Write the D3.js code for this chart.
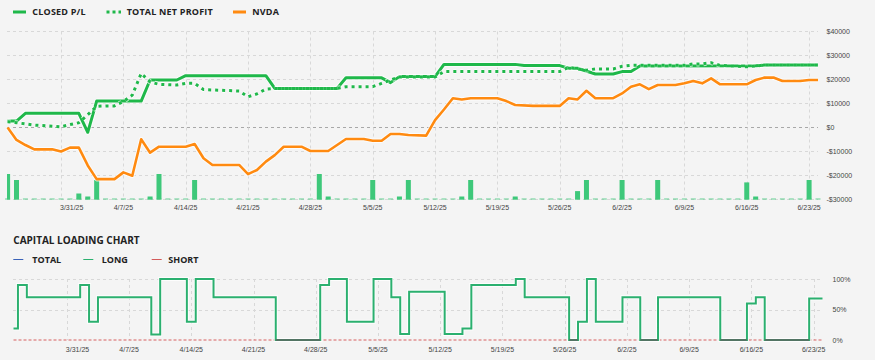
<!DOCTYPE html>
<html>
<head>
<meta charset="utf-8">
<script src="https://cdn.jsdelivr.net/npm/d3@7"></script>
<style>
  html, body { margin: 0; padding: 0; background: #f4f4f4; }
  svg { display: block; }
  .tick-label { font-family: "Liberation Sans", Arial, sans-serif; font-size: 7px; fill: #444; }
  .legend { font-family: "Open Sans", sans-serif; font-weight: 700; font-size: 9px; fill: #222; }
</style>
</head>
<body>
<svg id="chart" width="875" height="360"></svg>
<script>
// ---------------- DATA ----------------
const closedPL = [
  ["2025-03-25",2700],["2025-03-26",2700],["2025-03-27",5900],["2025-04-02",5900],["2025-04-03",-2000],
  ["2025-04-04",11000],["2025-04-09",11000],["2025-04-10",19800],["2025-04-13",19800],["2025-04-14",21600],
  ["2025-04-23",21600],["2025-04-24",16300],["2025-05-01",16300],["2025-05-02",20700],["2025-05-06",20700],
  ["2025-05-07",18700],["2025-05-08",21200],["2025-05-12",21200],["2025-05-13",26300],["2025-05-21",26300],
  ["2025-05-22",25800],["2025-05-26",25800],["2025-05-27",24700],["2025-05-28",24700],["2025-05-30",22300],
  ["2025-06-01",22300],["2025-06-02",23300],["2025-06-03",23300],["2025-06-04",25600],["2025-06-17",25700],
  ["2025-06-18",26000],["2025-06-24",26000]
];
const totalNetProfit = [
  ["2025-03-25",2400],["2025-03-26",2000],["2025-03-28",1000],["2025-03-31",300],["2025-04-01",1200],
  ["2025-04-02",2000],["2025-04-03",5300],["2025-04-04",8800],["2025-04-05",9000],["2025-04-06",9000],
  ["2025-04-07",10800],["2025-04-08",13500],["2025-04-09",22500],["2025-04-10",19000],["2025-04-11",18000],
  ["2025-04-13",17700],["2025-04-14",18400],["2025-04-15",18400],["2025-04-16",15800],["2025-04-20",15200],
  ["2025-04-21",12800],["2025-04-22",14000],["2025-04-23",16000],["2025-04-24",16300],["2025-05-01",16300],
  ["2025-05-02",17000],["2025-05-05",17000],["2025-05-06",18400],["2025-05-07",19800],["2025-05-08",21000],
  ["2025-05-12",21000],["2025-05-13",23300],["2025-05-26",23300],["2025-05-27",25100],["2025-05-28",24400],
  ["2025-05-29",23900],["2025-05-30",24400],["2025-06-01",24400],["2025-06-02",25500],["2025-06-03",25900],
  ["2025-06-09",25900],["2025-06-10",26500],["2025-06-11",26500],["2025-06-12",27000],["2025-06-13",25900],
  ["2025-06-16",25300],["2025-06-18",26000],["2025-06-24",26000]
];
const nvda = [
  ["2025-03-25",0],["2025-03-26",-5200],["2025-03-27",-7300],["2025-03-28",-9100],["2025-03-30",-9100],
  ["2025-03-31",-10000],["2025-04-01",-8400],["2025-04-02",-8400],["2025-04-03",-15800],["2025-04-04",-21500],
  ["2025-04-06",-21500],["2025-04-07",-18700],["2025-04-08",-20100],["2025-04-09",-4900],["2025-04-10",-10500],
  ["2025-04-11",-8000],["2025-04-14",-8000],["2025-04-15",-6900],["2025-04-16",-12800],["2025-04-17",-15600],
  ["2025-04-20",-15600],["2025-04-21",-19400],["2025-04-22",-17700],["2025-04-23",-14200],["2025-04-24",-11500],
  ["2025-04-25",-8000],["2025-04-27",-8000],["2025-04-28",-9800],["2025-04-30",-9800],["2025-05-01",-7300],
  ["2025-05-02",-4800],["2025-05-04",-4800],["2025-05-05",-5500],["2025-05-06",-5500],["2025-05-07",-2700],
  ["2025-05-08",-2700],["2025-05-09",-3100],["2025-05-11",-3400],["2025-05-12",3100],["2025-05-13",7500],
  ["2025-05-14",12200],["2025-05-15",11700],["2025-05-16",12200],["2025-05-19",12200],["2025-05-20",11000],
  ["2025-05-21",9400],["2025-05-23",9000],["2025-05-26",9000],["2025-05-27",12200],["2025-05-28",11700],
  ["2025-05-29",15300],["2025-05-30",12200],["2025-06-01",12200],["2025-06-02",14200],["2025-06-03",17000],
  ["2025-06-04",18000],["2025-06-05",16000],["2025-06-06",17700],["2025-06-08",17700],["2025-06-09",18400],
  ["2025-06-10",19400],["2025-06-11",18400],["2025-06-12",20500],["2025-06-13",18000],["2025-06-16",18000],
  ["2025-06-17",19800],["2025-06-18",20800],["2025-06-19",20800],["2025-06-20",19400],["2025-06-22",19400],
  ["2025-06-23",19800],["2025-06-24",19800]
];
const barDates = ["2025-03-25","2025-03-26","2025-04-02","2025-04-03","2025-04-04","2025-04-10","2025-04-11",
  "2025-04-15","2025-04-29","2025-04-30","2025-05-05","2025-05-08","2025-05-09","2025-05-15","2025-05-16",
  "2025-05-21","2025-05-28","2025-05-29","2025-06-02","2025-06-06","2025-06-16","2025-06-17","2025-06-23"];
const barValues = [8.5,6.5,2,1,6.5,1,8.5,6.5,8.5,1,6.5,1,6.5,1,6.5,1,2.8,6.5,6.5,6.5,5.7,1,6.5];

// capital loading: one value per calendar day from 2025-03-25 to 2025-06-24 (%)
const capStart = "2025-03-25", capEnd = "2025-06-24";
const longLoad = [
  19,90,70,70,70,70,70,70,90,30,70,70,70,70,70,70,9,100,100,100,30,100,100,
  70,70,70,70,70,70,70,0,0,0,0,0,90,100,100,30,30,30,100,100,70,10,79,79,79,79,
  10,10,19,90,90,90,90,90,100,70,70,70,70,70,0,30,100,30,30,30,70,70,0,0,
  70,70,70,70,70,70,70,0,0,0,60,70,0,0,0,0,0,68,68
];
const shortLoad = [["2025-03-25",0],["2025-06-24",0]];

const plTicks = [40000,30000,20000,10000,0,-10000,-20000,-30000];
const pctTicks = [100,50,0];
const dateTicks = ["2025-03-31","2025-04-07","2025-04-14","2025-04-21","2025-04-28","2025-05-05","2025-05-12",
  "2025-05-19","2025-05-26","2025-06-02","2025-06-09","2025-06-16","2025-06-23"];

// ---------------- DRAW ----------------
const parse = d3.utcParse("%Y-%m-%d");
const fmtDate = d3.utcFormat("%-m/%-d/%y");
const svg = d3.select("#chart");
const GREEN = "#1fb84a", ORANGE = "#ff8a10", BARG = "#3ec87a";

// Top chart scales
const x1 = d3.scaleUtc().domain([parse("2025-03-25"), parse("2025-06-24")]).range([7.6, 818]);
const y1 = d3.scaleLinear().domain([-30000, 40000]).range([199.5, 31.5]);
const yb = d3.scaleLinear().domain([0, 10]).range([199.5, 169.5]);

const g1 = svg.append("g");
// horizontal grid
g1.selectAll("line.hg").data(plTicks).join("line")
  .attr("x1", 7).attr("x2", 818).attr("y1", d => y1(d)).attr("y2", d => y1(d))
  .attr("stroke", d => d === 0 ? "#a8a8a8" : "#d8d8d8").attr("stroke-width", 1)
  .attr("stroke-dasharray", "3,3");
// vertical grid
g1.selectAll("line.vg").data(dateTicks).join("line")
  .attr("x1", d => Math.round(x1(parse(d))) + 0.5).attr("x2", d => Math.round(x1(parse(d))) + 0.5)
  .attr("y1", 31.5).attr("y2", 199.5)
  .attr("stroke", "#d8d8d8").attr("stroke-dasharray", "3,3");

// baseline tiny bars for each day
const days = d3.utcDay.range(parse("2025-03-25"), d3.utcDay.offset(parse("2025-06-24"), 1));
g1.selectAll("rect.zb").data(days).join("rect")
  .attr("x", d => x1(d) - 2.5).attr("width", 5).attr("y", 198.5).attr("height", 1)
  .attr("fill", BARG).attr("opacity", 0.8);
// bars
g1.selectAll("rect.bar").data(barDates.map((d, i) => ({d: parse(d), v: barValues[i]}))).join("rect")
  .attr("x", d => Math.max(7, x1(d.d) - 2.5))
  .attr("width", d => x1(d.d) - 2.5 < 7 ? 5 - (7 - (x1(d.d) - 2.5)) : 5)
  .attr("y", d => yb(d.v)).attr("height", d => yb(0) - yb(d.v))
  .attr("fill", BARG);

const toPts = arr => arr.map(([d, v]) => ({d: parse(d), v}));
const line1 = d3.line().x(d => x1(d.d)).y(d => y1(d.v));

function drawLine(data, color, width, dash) {
  g1.append("path").datum(toPts(data)).attr("d", line1)
    .attr("fill", "none").attr("stroke", "#ffffff").attr("stroke-opacity", 0.7)
    .attr("stroke-width", width + 2).attr("stroke-linejoin", "round")
    .attr("stroke-dasharray", dash || null);
  g1.append("path").datum(toPts(data)).attr("d", line1)
    .attr("fill", "none").attr("stroke", color).attr("stroke-width", width)
    .attr("stroke-linejoin", "round").attr("stroke-dasharray", dash || null);
}
drawLine(nvda, ORANGE, 2.6);
drawLine(closedPL, GREEN, 3);
drawLine(totalNetProfit, GREEN, 3, "3,4");

// top right axis labels
g1.selectAll("text.yl").data(plTicks).join("text").attr("class", "tick-label")
  .attr("x", 826.5).attr("y", d => y1(d) + 2.5)
  .text(d => (d < 0 ? "-$" : "$") + Math.abs(d));
// top date labels
g1.selectAll("text.xl").data(dateTicks).join("text").attr("class", "tick-label")
  .attr("x", (d, i) => i === 0 ? x1(parse(d)) - 1 : x1(parse(d)))
  .attr("y", 209.8)
  .attr("text-anchor", (d, i) => i === 0 ? "start" : "middle")
  .text(d => fmtDate(parse(d)));

// top legend
const leg = svg.append("g");
leg.append("line").attr("x1", 13).attr("x2", 26).attr("y1", 12).attr("y2", 12).attr("stroke", GREEN).attr("stroke-width", 3);
leg.append("text").attr("class", "legend").attr("x", 32.3).attr("y", 15.2).attr("letter-spacing", 0.2).text("CLOSED P/L");
leg.append("line").attr("x1", 106.5).attr("x2", 121).attr("y1", 12).attr("y2", 12).attr("stroke", GREEN).attr("stroke-width", 3).attr("stroke-dasharray", "3,3");
leg.append("text").attr("class", "legend").attr("x", 126.7).attr("y", 15.2).attr("letter-spacing", 0.2).text("TOTAL NET PROFIT");
leg.append("line").attr("x1", 233).attr("x2", 246).attr("y1", 12).attr("y2", 12).attr("stroke", ORANGE).attr("stroke-width", 3);
leg.append("text").attr("class", "legend").attr("x", 252.3).attr("y", 15.2).attr("letter-spacing", 0.2).text("NVDA");

// ---------------- Capital loading chart ----------------
svg.append("text").attr("x", 13.3).attr("y", 243.6)
  .attr("font-family", "'Open Sans', sans-serif").attr("font-weight", 700).attr("font-size", 10).attr("fill", "#222")
  .text("CAPITAL LOADING CHART");

const leg2 = svg.append("g");
const leg2Items = [
  {label: "TOTAL", color: "#3a62b8", lx: 13.3, tx: 32.3},
  {label: "LONG", color: "#2bb06f", lx: 83.3, tx: 101.7},
  {label: "SHORT", color: "#d35a5a", lx: 151.7, tx: 168.3}
];
leg2Items.forEach(it => {
  leg2.append("line").attr("x1", it.lx).attr("x2", it.lx + 10).attr("y1", 259.5).attr("y2", 259.5)
    .attr("stroke", it.color).attr("stroke-width", 1);
  leg2.append("text").attr("class", "legend").attr("x", it.tx).attr("y", 262.5).text(it.label);
});

const x2 = d3.scaleUtc().domain([parse(capStart), parse(capEnd)]).range([13.5, 822.5]);
const y2 = d3.scaleLinear().domain([0, 100]).range([340, 279]);
const g2 = svg.append("g");
g2.selectAll("line.hg").data(pctTicks.filter(d => d > 0)).join("line")
  .attr("x1", 13).attr("x2", 823).attr("y1", d => Math.round(y2(d)) + 0.5).attr("y2", d => Math.round(y2(d)) + 0.5)
  .attr("stroke", "#d8d8d8").attr("stroke-dasharray", "3,3");
g2.selectAll("line.vg").data(dateTicks).join("line")
  .attr("x1", d => Math.round(x2(parse(d))) + 0.5).attr("x2", d => Math.round(x2(parse(d))) + 0.5)
  .attr("y1", 279).attr("y2", 340)
  .attr("stroke", "#d8d8d8").attr("stroke-dasharray", "3,3");

const capDays = d3.utcDay.range(parse(capStart), d3.utcDay.offset(parse(capEnd), 1));
const longPts = capDays.map((d, i) => ({d, v: longLoad[i]}));
const line2 = d3.line().x(d => x2(d.d)).y(d => y2(d.v)).curve(d3.curveStep);

// short (zero) dashed red
g2.append("path").datum(toPts(shortLoad)).attr("d", line2)
  .attr("fill", "none").attr("stroke", "#d86060").attr("stroke-width", 1).attr("stroke-dasharray", "3,2");
// long with halo
g2.append("path").datum(longPts).attr("d", line2)
  .attr("fill", "none").attr("stroke", "#ffffff").attr("stroke-width", 4).attr("stroke-opacity", 0.8);
g2.append("path").datum(longPts).attr("d", line2)
  .attr("fill", "none").attr("stroke", "#2bb06f").attr("stroke-width", 2);
// zero-level segments appear dark
const zeroLine = d3.line().defined(d => d.v === 0).x(d => x2(d.d)).y(d => y2(d.v));
const zeroSegs = [];
longPts.forEach((p, i) => {
  if (p.v === 0) {
    zeroSegs.push({d: d3.utcHour.offset(p.d, -12), v: 0});
    zeroSegs.push({d: d3.utcHour.offset(p.d, 12), v: 0});
    zeroSegs.push({d: p.d, v: null});
  }
});
g2.append("path").datum(zeroSegs).attr("d", zeroLine)
  .attr("fill", "none").attr("stroke", "#606060").attr("stroke-width", 1.5);

g2.selectAll("text.yl").data(pctTicks).join("text").attr("class", "tick-label")
  .attr("x", 832.5).attr("y", d => y2(d) + 2.5).text(d => d + "%");
g2.selectAll("text.xl").data(dateTicks).join("text").attr("class", "tick-label")
  .attr("x", (d, i) => i === 0 ? x2(parse(d)) - 1 : x2(parse(d)))
  .attr("y", 351.8)
  .attr("text-anchor", (d, i) => i === 0 ? "start" : "middle")
  .text(d => fmtDate(parse(d)));
</script>
</body>
</html>
